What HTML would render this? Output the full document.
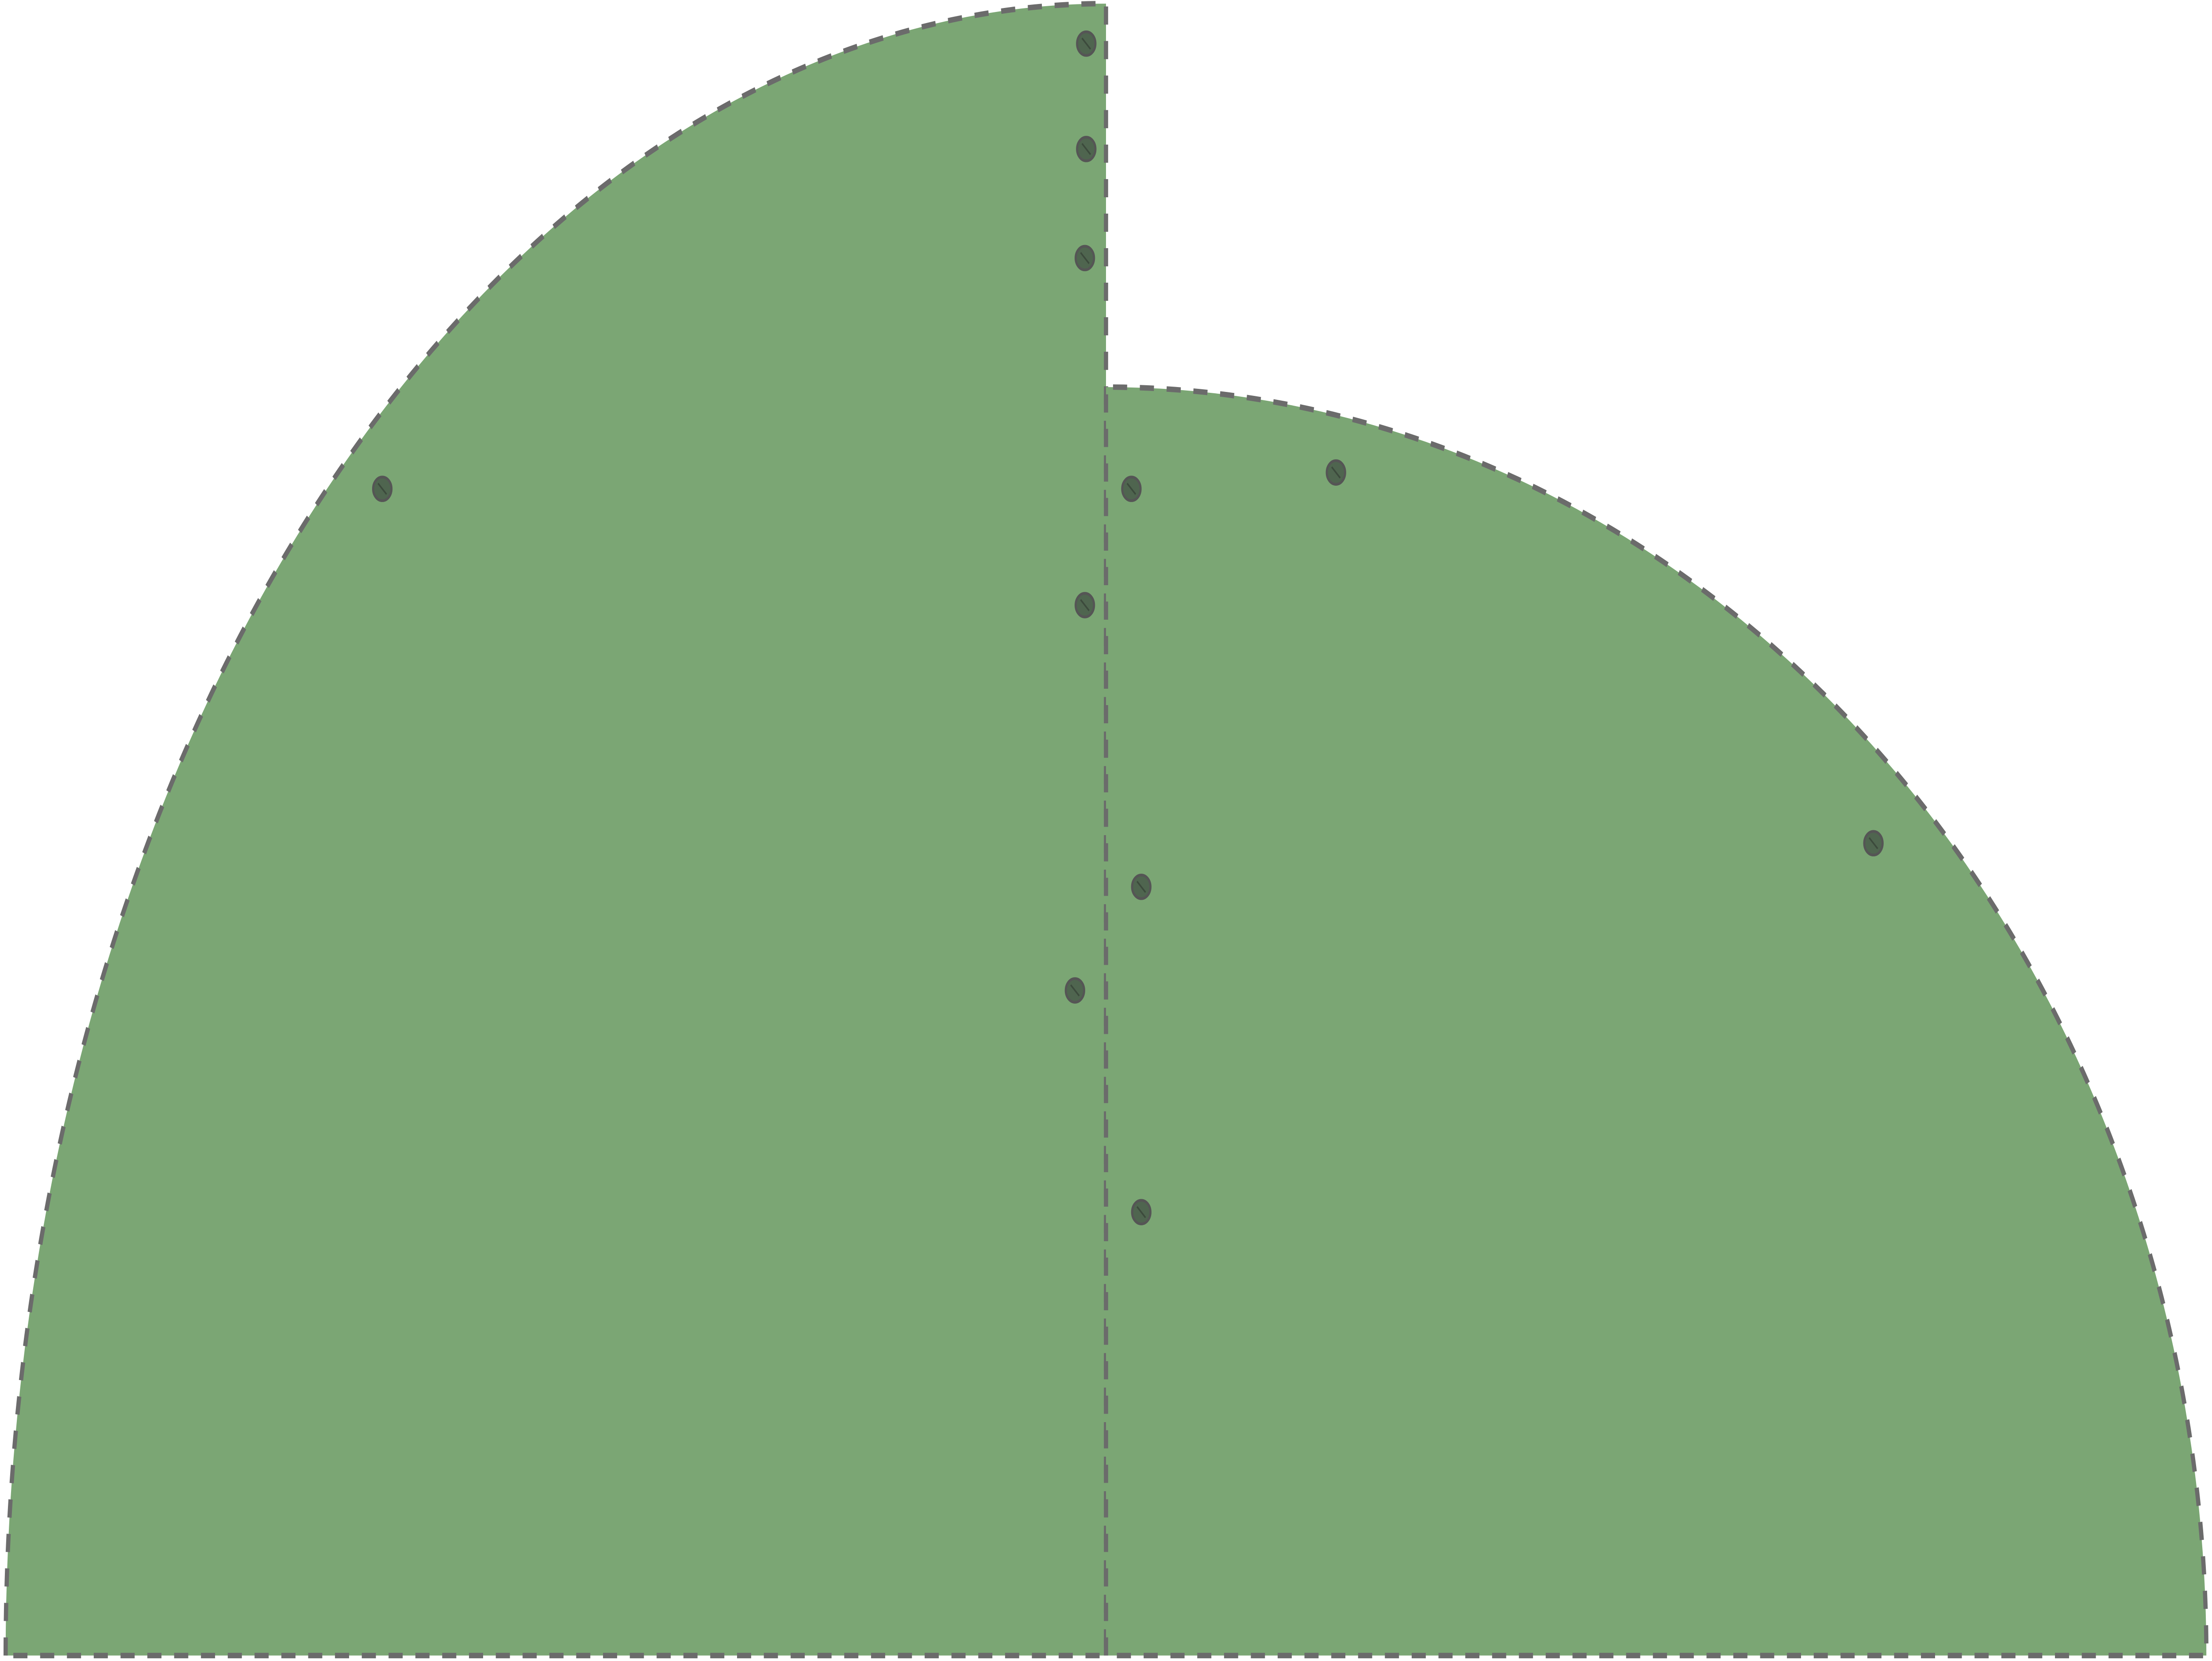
<!DOCTYPE html>
<html><head><meta charset="utf-8">
<meta name="viewport" content="width=6442, initial-scale=1">
<style>
html,body{margin:0;padding:0;background:#fff;width:100%;height:100%;overflow:hidden;}
svg{display:block;position:fixed;left:0;top:0;width:100vw;height:100vh;}
</style></head>
<body>
<svg id="chart" viewBox="0 0 1568 914" preserveAspectRatio="none" xmlns="http://www.w3.org/2000/svg"></svg>
<script>
// Data
const categories = ["left-sector", "right-sector"];
const sectorHeights = [909, 698];   // vertical extent (data units)
const sectorWidths = [780, 780];    // horizontal extent (data units)
const pointX = [-14, -14, -15, -513, 18, 163, -15, 25, -22, 544, 25];
const pointY = [887, 829, 769, 642, 642, 651, 578, 423, 366, 447, 244];

// Axis functions
const cx = 784, cy = 911;
const xs = v => cx + v;
const ys = v => cy - v;

const svg = document.getElementById('chart');
const NS = 'http://www.w3.org/2000/svg';
const dash = '10 9';
const strokeCol = '#6b6b6b';

function sector(i, leftSide) {
  const p = document.createElementNS(NS, 'path');
  const rx = sectorWidths[i], ry = sectorHeights[i];
  let d;
  if (leftSide) {
    d = `M${xs(-rx)},${ys(0)} A${rx},${ry} 0 0 1 ${xs(0)},${ys(ry)} L${xs(0)},${ys(0)} Z`;
  } else {
    d = `M${xs(0)},${ys(0)} L${xs(0)},${ys(ry)} A${rx},${ry} 0 0 1 ${xs(rx)},${ys(0)} Z`;
  }
  p.setAttribute('d', d);
  p.setAttribute('fill', '#7ba674');
  p.setAttribute('stroke', strokeCol);
  p.setAttribute('stroke-width', '3');
  p.setAttribute('stroke-dasharray', dash);
  
  
  svg.appendChild(p);
}
sector(0, true);
sector(1, false);

for (let i = 0; i < pointX.length; i++) {
  const c = document.createElementNS(NS, 'circle');
  c.setAttribute('cx', xs(pointX[i]));
  c.setAttribute('cy', ys(pointY[i]));
  c.setAttribute('r', 6.5);
  c.setAttribute('fill', '#4f654f');
  c.setAttribute('stroke', '#555');
  c.setAttribute('stroke-width', '1.5');
  
  
  svg.appendChild(c);
  const l = document.createElementNS(NS, 'line');
  l.setAttribute('x1', xs(pointX[i] - 3));
  l.setAttribute('y1', ys(pointY[i] + 3));
  l.setAttribute('x2', xs(pointX[i] + 3));
  l.setAttribute('y2', ys(pointY[i] - 3));
  l.setAttribute('stroke', '#3c4a3c');
  l.setAttribute('stroke-width', '1');
  
  
  svg.appendChild(l);
}
</script>
</body></html>
